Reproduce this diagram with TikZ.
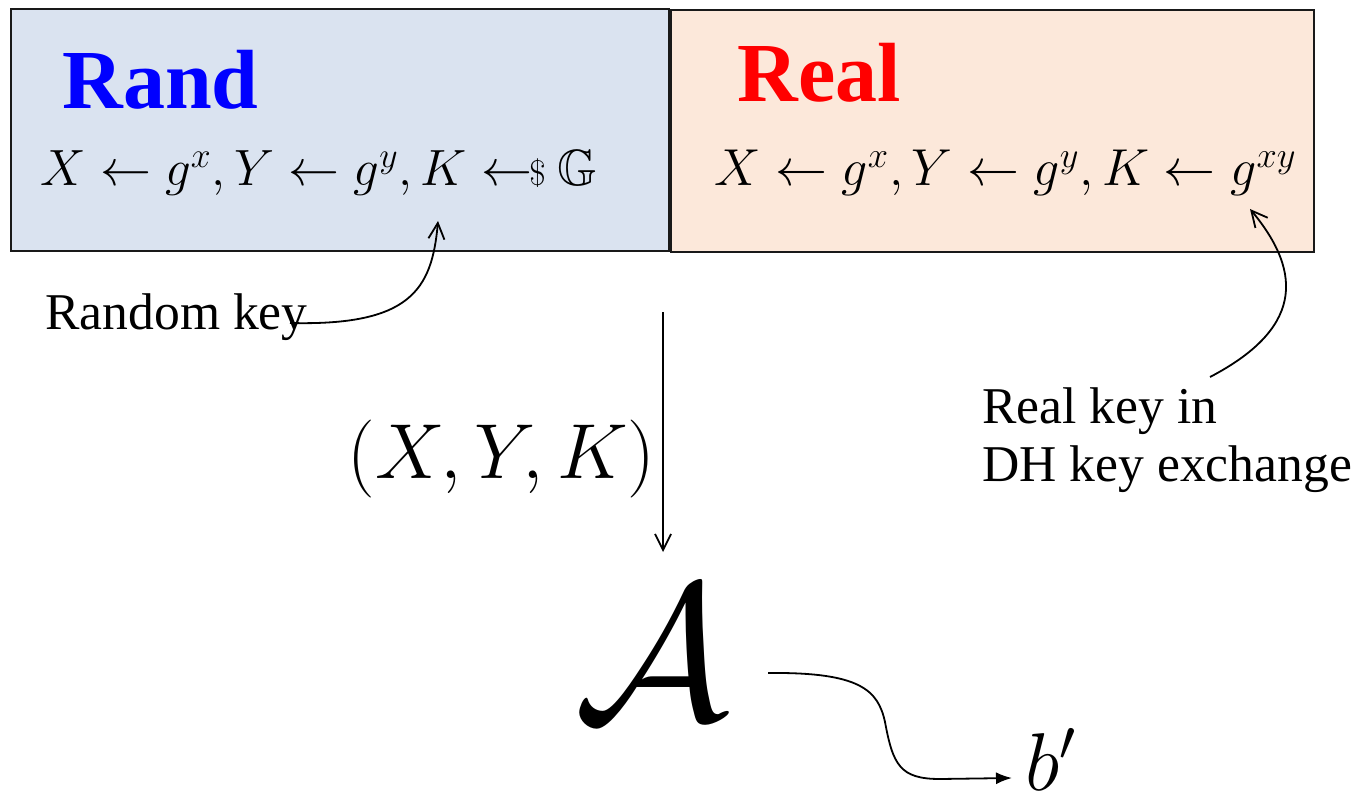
\RequirePackage{fix-cm}
\documentclass[tikz,border=0pt]{standalone}
\usepackage{amssymb}
\usepackage{fontspec}
\setmainfont{LiberationSerif}[Extension=.ttf, UprightFont=*-Regular, BoldFont=*-Bold, ItalicFont=*-Italic, BoldItalicFont=*-BoldItalic]
\usetikzlibrary{arrows.meta}
\definecolor{randbg}{HTML}{DAE3F0}
\definecolor{realbg}{HTML}{FCE8DA}
\definecolor{randtitle}{HTML}{0000FF}
\definecolor{realtitle}{HTML}{FF0000}
\begin{document}
\begin{tikzpicture}[x=0.5pt,y=-0.5pt,
  gamebox/.style={draw=black!90, line width=1.2pt, anchor=north west, inner sep=0pt, minimum height=121pt},
  titletext/.style={font=\fontsize{42}{48}\selectfont\bfseries, anchor=base west, inner sep=0pt},
  eqtext/.style={font=\fontsize{26}{30}\selectfont, anchor=base west, inner sep=0pt},
  notetext/.style={font=\fontsize{25.8}{29}\selectfont, inner sep=0pt},
  conn/.style={line width=0.9pt},
  openarrow/.style={conn, -{Straight Barb[length=8pt,width=8pt]}},
  fillarrow/.style={conn, -{Latex[length=8pt,width=6pt]}}]
\useasboundingbox (0,0) rectangle (1353,802);
% boxes
\node[gamebox, fill=randbg, minimum width=329pt] (randbox) at (10,8) {};
\node[gamebox, fill=realbg, minimum width=321.5pt] (realbox) at (670,9) {};
% titles
\node[titletext, text=randtitle] (randtitle) at (62,109) {Rand};
\node[titletext, text=realtitle] (realtitle) at (737,102) {Real};
% equations
\node[eqtext, font=\fontsize{25.5}{30}\selectfont] (randeq) at (40,186) {$X \leftarrow g^x, Y \leftarrow g^y, K \mathrel{\leftarrow\mkern-6mu{\scriptstyle\$}}\mkern-1mu \mathbb{G}$};
\node[eqtext] (realeq) at (714,186) {$X \leftarrow g^x, Y \leftarrow g^y, K \leftarrow g^{xy}$};
% notes
\node[notetext, anchor=base west] (rkey) at (45,329) {Random key};
\node[notetext, anchor=north west, align=left] (dhkey) at (982,387) {Real key in\\DH key exchange};
% tuple and adversary
\node[font=\fontsize{39}{44}\selectfont, anchor=base west, inner sep=0pt] (tuple) at (347,478) {$(X, Y, K)$};
\node[font=\fontsize{97}{100}\selectfont, anchor=base, inner sep=0pt] (adv) at (652,719) {$\mathcal{A}$};
\node[font=\fontsize{41}{44}\selectfont, anchor=base west, inner sep=0pt] (bout) at (1025,790) {$b'$};
% connector ends
\coordinate (rkstart) at (290,323);
\coordinate (rkend) at (438,221);
\coordinate (dhstart) at (1210,377);
\coordinate (dhend) at (1250,209);
\coordinate (vtop) at (663,312);
\coordinate (vend) at (663,552);
\coordinate (astart) at (768,673);
\coordinate (bend) at (1012,778);
% connectors
\draw[openarrow] (rkstart) .. controls (410,326) and (432,290) .. (rkend);
\draw[openarrow] (dhstart) .. controls (1300,330) and (1305,275) .. (dhend);
\draw[openarrow] (vtop) -- (vend);
\draw[fillarrow] (astart) .. controls (860,672) and (878,690) .. (885,722)
  .. controls (893,765) and (900,779) .. (940,779) -- (bend);
\end{tikzpicture}
\end{document}
